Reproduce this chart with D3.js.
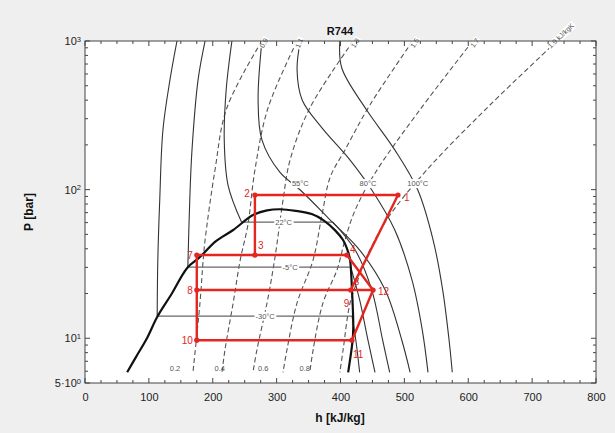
<!DOCTYPE html>
<html><head><meta charset="utf-8">
<script src="https://cdn.jsdelivr.net/npm/d3@7"></script>
<style>
html,body{margin:0;padding:0;background:#efefef;}
svg{display:block;font-family:"Liberation Sans",Arial,sans-serif;}
</style></head><body>
<svg id="c" width="615" height="433"></svg>
<script>
// ---------------- data ----------------
const hTicks = [0,100,200,300,400,500,600,700,800];
const pTicks = [5,10,100,1000];
const pTickBase = ["5·10","10","10","10"];
const pTickExp  = ["0","1","2","3"];

// saturation dome
const satLiqH = [66, 80, 97, 113, 136, 160, 180, 205, 232, 263, 285, 305];
const satLiqP = [5.9, 7.5, 10, 13.9, 20, 29.7, 35.2, 45, 53.5, 67.5, 72.5, 73.8];
const satVapH = [305, 330, 355, 373, 392, 404, 412, 415, 418, 420, 419, 412];
const satVapP = [73.8, 72, 68.5, 62.4, 53, 45.8, 38, 33.6, 21.1, 12, 9.7, 5.9];

// isotherms
const isoLabels = ["-30°C","-5°C","22°C","55°C","80°C","100°C"];
const isoM30H = [144,133,122,117,114,113,418,424,430];
const isoM30P = [1000,547,252,85,33.6,14.1,14.1,9.7,5.9];
const isoM5H  = [188,177,167.5,164,161,416,430,443,454];
const isoM5P  = [1000,547,185,85,30.1,30.1,18.1,9.7,5.9];
const iso22H  = [230,221,218,224,245,388,423,449,466,477];
const iso22P  = [1000,468,216,107,60.5,60.5,39.2,21.1,9.7,5.9];
const iso55H  = [277,271,277,305,337,384,430,470,496,509];
const iso55P  = [1000,401,216,131,99.4,62.4,39.2,21.1,9.7,5.9];
const iso80H  = [337,332,340,371,415,449,485,512,528,537];
const iso80P  = [1000,638,401,260,158,99.4,53.5,24.6,11.4,5.9];
const iso100H = [399,402,441,485,521,545,560,570,575];
const iso100P = [1000,658,343,185,99.4,45.8,21.1,9.7,5.9];
const isoLabelH = [282,321,311,337,443,521];
const isoLabelP = [14.1,30.1,60.5,110,110,110];

// isentropes
const sLabels = ["0.9","1.1","1.3","1.5","1.7","1.9 kJ/kgK"];
const s09H = [277,222,203.5,188,185,180,169];
const s09P = [1000,354,135.5,45.8,33.6,17.3,5.9];
const s11H = [332,286.5,266,255,243,232,219,214.5];
const s11P = [1000,354,135.5,57.8,33.6,17.3,8.3,5.9];
const s13H = [420,352,321,310,297.5,285,269,263];
const s13P = [1000,354,158,85,35.2,17.3,8.3,5.9];
const s15H = [513,446,407,384,371,357,332,316,310];
const s15P = [1000,371,185,121.6,67.5,33.6,17.3,8.3,5.9];
const s17H = [607,524,454,423,407,394.5,372.6,357,352];
const s17P = [1000,343,129,72.9,45.8,28.8,17.3,8.3,5.9];
const s19H = [739,634,535,477.5,446,427,415,404,399];
const s19P = [1000,371,135.5,67.5,39.2,24.6,17.3,8.3,5.9];

// vapour quality labels
const xLabels = ["0.2","0.4","0.6","0.8"];
const xLabelH = [141,211,279,344];
const xLabelP = [6.3,6.3,6.3,6.3];

// refrigeration cycle
const cycleIds = ["1","2","3","4","7","8","9","10","11","12"];
const cycleH   = [490,266,266,410,175,175,416,175,418,451];
const cycleP   = [92,92,36.3,36.3,36.3,21.1,21.1,9.7,9.7,21.1];
const cycleSegs = [["2","1"],["2","3"],["7","4"],["7","10"],["8","12"],["10","11"],["11","12"],["1","9"],["12","4"]];

// ---------------- drawing ----------------
const svg = d3.select("#c");
const x = d3.scaleLinear().domain([0,800]).range([85,596]);
const y = d3.scaleLog().domain([5,1000]).range([383,41]);
const X0=x(0), X1=x(800), Y0=y(5), Y1=y(1000);

svg.append("rect").attr("width",615).attr("height",433).attr("fill","#efefef");
svg.append("rect").attr("x",X0).attr("y",Y1).attr("width",X1-X0).attr("height",Y0-Y1).attr("fill","#ffffff");

svg.append("clipPath").attr("id","pc").append("rect")
  .attr("x",X0).attr("y",Y1).attr("width",X1-X0).attr("height",Y0-Y1);
const g = svg.append("g").attr("clip-path","url(#pc)");

const smooth = d3.line().x(d=>x(d[0])).y(d=>y(d[1])).curve(d3.curveCatmullRom.alpha(0.5));
const straight = d3.line().x(d=>x(d[0])).y(d=>y(d[1]));

// isentropes (dashed)
const sCurves = [[s09H,s09P],[s11H,s11P],[s13H,s13P],[s15H,s15P],[s17H,s17P],[s19H,s19P]];
sCurves.forEach(c=>{
  g.append("path").attr("d",smooth(d3.zip(c[0],c[1])))
   .attr("fill","none").attr("stroke","#555").attr("stroke-width",1.1)
   .attr("stroke-dasharray","5,3");
});

// isotherms: liquid / dome / vapour pieces
function isoPath(h,P){
  const pts = d3.zip(h,P);
  let segs=[], cur=[pts[0]];
  for(let i=1;i<pts.length;i++){
    if(pts[i][1]===pts[i-1][1]){ segs.push(cur); segs.push([pts[i-1],pts[i]]); cur=[pts[i]]; }
    else cur.push(pts[i]);
  }
  segs.push(cur);
  segs.forEach(s=>{
    const flat = s.length===2&&s[0][1]===s[1][1];
    g.append("path").attr("d",flat?straight(s):smooth(s))
     .attr("fill","none").attr("stroke",flat?"#666":"#333").attr("stroke-width",flat?1.3:1.1);
  });
}
[[isoM30H,isoM30P],[isoM5H,isoM5P],[iso22H,iso22P],[iso55H,iso55P],[iso80H,iso80P],[iso100H,iso100P]]
  .forEach(c=>isoPath(c[0],c[1]));

// saturation dome
const dome = d3.zip(satLiqH,satLiqP).concat(d3.zip(satVapH,satVapP).slice(1));
g.append("path").attr("d",smooth(dome)).attr("fill","none").attr("stroke","#111").attr("stroke-width",2.2);

// labels with white background
function boxLabel(px,py,txt,size,color,rot,anchor){
  const gg = svg.append("g").attr("transform",`translate(${px},${py}) rotate(${rot||0})`);
  const t = gg.append("text").attr("x",0).attr("y",0).attr("dy","0.35em")
    .attr("text-anchor",anchor||"middle").attr("font-size",size).attr("fill",color).text(txt);
  const bb = t.node().getBBox();
  gg.insert("rect","text").attr("x",bb.x-1).attr("y",bb.y).attr("width",bb.width+2).attr("height",bb.height).attr("fill","#fff");
}
isoLabels.forEach((t,i)=>boxLabel(x(isoLabelH[i]),y(isoLabelP[i]),t,7.5,"#555",0));

sCurves.forEach((c,i)=>{
  const p0=[x(c[0][0]),y(c[1][0])], p1=[x(c[0][1]),y(c[1][1])];
  const ang = Math.atan2(p0[1]-p1[1],p0[0]-p1[0])*180/Math.PI;
  if(i<sCurves.length-1){
    boxLabel(p0[0]+2,p0[1]+2,sLabels[i],7,"#555",ang);
  } else {
    boxLabel(p0[0]-8,p0[1]+6,sLabels[i],7,"#555",ang,"start");
  }
});

xLabels.forEach((t,i)=>{
  svg.append("text").attr("x",x(xLabelH[i])).attr("y",y(xLabelP[i])).attr("dy","0.35em")
   .attr("text-anchor","middle").attr("font-size",7.5).attr("fill","#555").text(t);
});

// cycle
const red="#e3261f";
const cp = {};
cycleIds.forEach((id,i)=>cp[id]=[cycleH[i],cycleP[i]]);
cycleSegs.forEach(s=>{
  svg.append("path").attr("d",straight([cp[s[0]],cp[s[1]]]))
    .attr("fill","none").attr("stroke",red).attr("stroke-width",2.4).attr("stroke-linecap","round");
});
cycleIds.forEach(id=>{
  svg.append("circle").attr("cx",x(cp[id][0])).attr("cy",y(cp[id][1])).attr("r",2.6).attr("fill",red);
});
const lblOff = {"1":[6,2,"start"],"2":[-5,-2,"end"],"3":[3,-10,"start"],"4":[3,-6,"start"],
  "7":[-4,0,"end"],"8":[-4,0,"end"],"9":[-7,13,"start"],"10":[-4,0,"end"],"11":[1,14,"start"],"12":[5,1,"start"]};
cycleIds.forEach(id=>{
  const o=lblOff[id];
  svg.append("text").attr("x",x(cp[id][0])+o[0]).attr("y",y(cp[id][1])+o[1]).attr("dy","0.35em")
    .attr("text-anchor",o[2]).attr("font-size",10).attr("fill",red).text(id);
});
svg.append("text").attr("x",x(cp["9"][0])+4).attr("y",y(cp["9"][1])-8).attr("dy","0.35em")
  .attr("font-size",8).attr("fill",red).text("5");

// ---------------- axes ----------------
const ax = svg.append("g");
ax.append("rect").attr("x",X0).attr("y",Y1).attr("width",X1-X0).attr("height",Y0-Y1)
  .attr("fill","none").attr("stroke","#444").attr("stroke-width",1);
const axCol="#444";
for(let v=0; v<=800; v+=25){
  const len = (v%100===0)?5:3;
  ax.append("line").attr("x1",x(v)).attr("x2",x(v)).attr("y1",Y0).attr("y2",Y0-len).attr("stroke",axCol);
  ax.append("line").attr("x1",x(v)).attr("x2",x(v)).attr("y1",Y1).attr("y2",Y1+len).attr("stroke",axCol);
}
const yMinor=[];
[1,10,100].forEach(dec=>{for(let m=1;m<=9;m++){const v=m*dec; if(v>=5&&v<=1000) yMinor.push(v);}});
yMinor.push(1000);
yMinor.forEach(v=>{
  const major = pTicks.includes(v);
  const len = major?5:3;
  ax.append("line").attr("x1",X0).attr("x2",X0+len).attr("y1",y(v)).attr("y2",y(v)).attr("stroke",axCol);
  ax.append("line").attr("x1",X1).attr("x2",X1-len).attr("y1",y(v)).attr("y2",y(v)).attr("stroke",axCol);
});
const xa = svg.append("g").attr("transform",`translate(0,${Y0})`)
  .call(d3.axisBottom(x).tickValues(hTicks).tickSize(0).tickPadding(10).tickFormat(d3.format("d")));
xa.select(".domain").remove();
xa.selectAll("text").attr("font-size",11).attr("fill","#222").attr("font-family","Liberation Sans, Arial, sans-serif");
const ya = svg.append("g").attr("transform",`translate(${X0},0)`)
  .call(d3.axisLeft(y).tickValues(pTicks).tickSize(0).tickPadding(4).tickFormat(""));
ya.select(".domain").remove();
ya.selectAll(".tick text").each(function(d){
  const i = pTicks.indexOf(d);
  const t = d3.select(this).attr("font-size",11).attr("fill","#222").attr("font-family","Liberation Sans, Arial, sans-serif");
  t.text(null);
  t.append("tspan").text(pTickBase[i]);
  t.append("tspan").attr("dy","-0.45em").attr("font-size",7.5).text(pTickExp[i]);
});

// titles
svg.append("text").attr("x",340).attr("y",35).attr("text-anchor","middle")
  .attr("font-size",11).attr("font-weight","bold").attr("fill","#111").text("R744");
svg.append("text").attr("x",340).attr("y",422).attr("text-anchor","middle")
  .attr("font-size",12).attr("font-weight","bold").attr("fill","#111").text("h [kJ/kg]");
svg.append("text").attr("transform","translate(33,212) rotate(-90)").attr("text-anchor","middle")
  .attr("font-size",12).attr("font-weight","bold").attr("fill","#111").text("P [bar]");
</script>
</body></html>
